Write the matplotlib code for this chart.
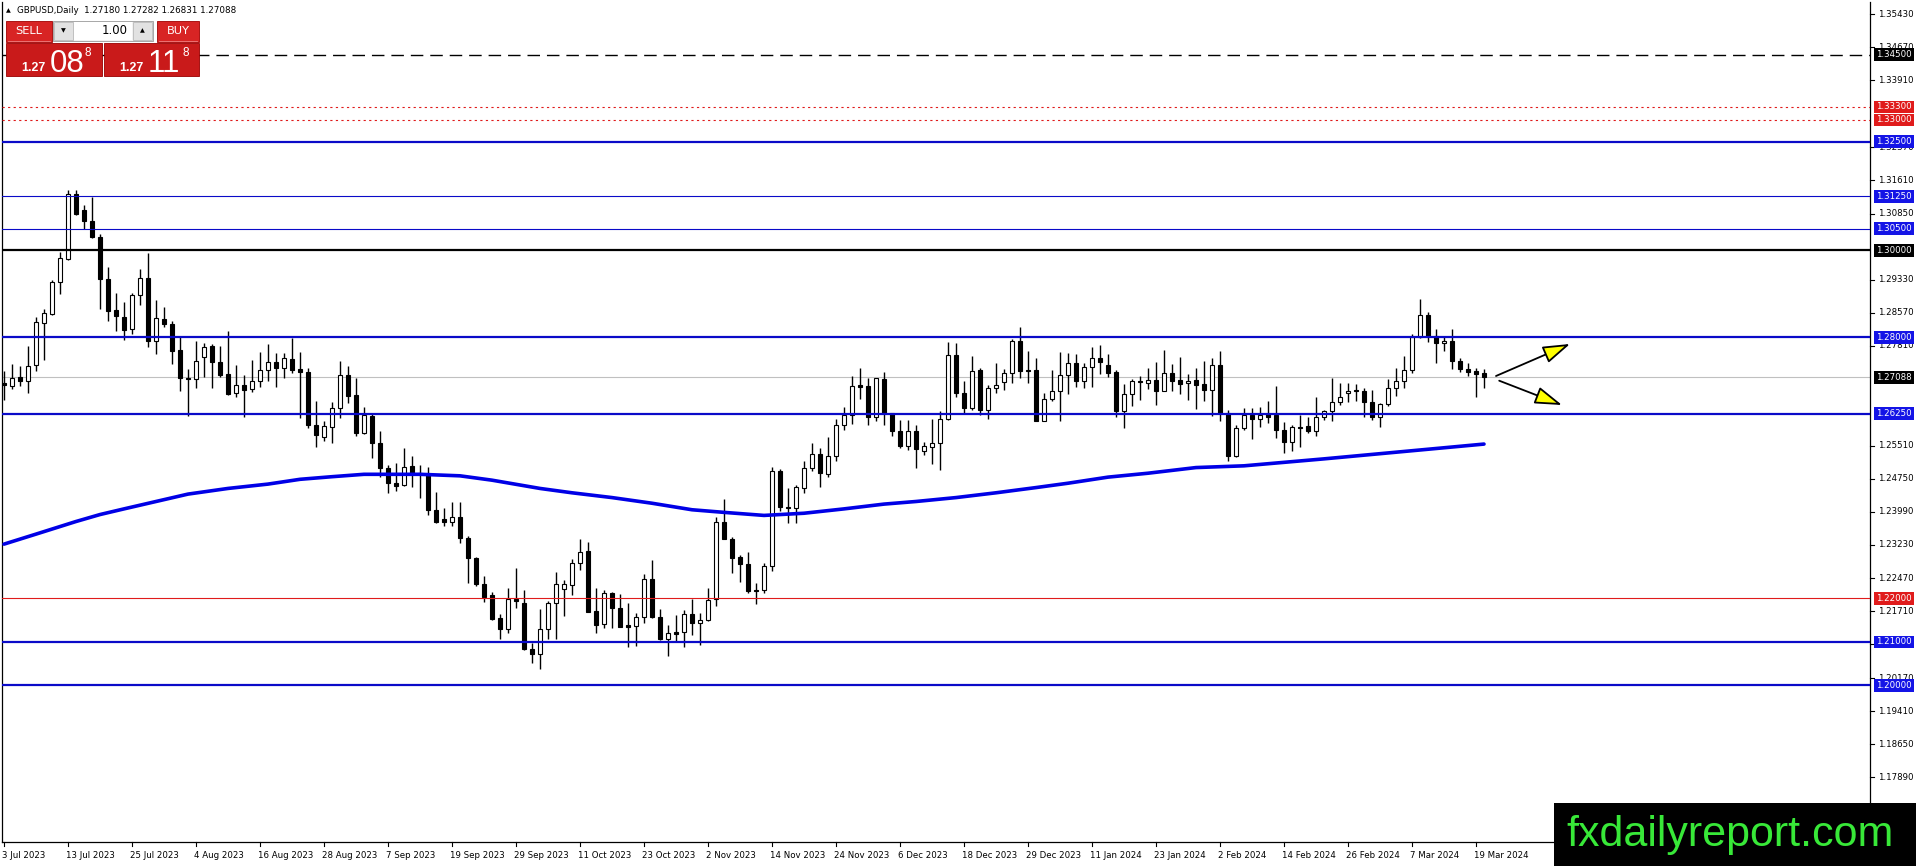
import numpy as np
import matplotlib
matplotlib.use("Agg")
import matplotlib.pyplot as plt
from matplotlib.patches import Rectangle
from matplotlib.transforms import blended_transform_factory

# GBPUSD daily candles, bar 0 = 3 Jul 2023, last bar = 20 Mar 2024
opens = [1.2695, 1.2688, 1.2709, 1.2700, 1.2736, 1.2833, 1.2855, 1.2927, 1.2981, 1.3130,
         1.3093, 1.3068, 1.3030, 1.2935, 1.2863, 1.2847, 1.2820, 1.2897, 1.2937, 1.2792,
         1.2843, 1.2831, 1.2772, 1.2707, 1.2705, 1.2755, 1.2780, 1.2743, 1.2716, 1.2672,
         1.2690, 1.2681, 1.2700, 1.2726, 1.2743, 1.2730, 1.2751, 1.2728, 1.2720, 1.2598,
         1.2572, 1.2595, 1.2637, 1.2714, 1.2668, 1.2581, 1.2620, 1.2558, 1.2501, 1.2466,
         1.2462, 1.2505, 1.2489, 1.2487, 1.2403, 1.2382, 1.2377, 1.2388, 1.2338, 1.2294,
         1.2233, 1.2207, 1.2155, 1.2131, 1.2199, 1.2190, 1.2083, 1.2072, 1.2131, 1.2189,
         1.2221, 1.2232, 1.2281, 1.2309, 1.2171, 1.2141, 1.2212, 1.2179, 1.2139, 1.2137,
         1.2158, 1.2244, 1.2157, 1.2106, 1.2123, 1.2122, 1.2164, 1.2144, 1.2151, 1.2198,
         1.2375, 1.2337, 1.2296, 1.2280, 1.2220, 1.2220, 1.2275, 1.2493, 1.2411, 1.2409,
         1.2453, 1.2499, 1.2532, 1.2487, 1.2527, 1.2598, 1.2622, 1.2690, 1.2688, 1.2617,
         1.2704, 1.2626, 1.2586, 1.2551, 1.2586, 1.2539, 1.2549, 1.2557, 1.2612, 1.2760,
         1.2672, 1.2639, 1.2725, 1.2633, 1.2683, 1.2697, 1.2718, 1.2792, 1.2726, 1.2725,
         1.2609, 1.2658, 1.2677, 1.2713, 1.2741, 1.2701, 1.2733, 1.2752, 1.2737, 1.2721,
         1.2630, 1.2669, 1.2700, 1.2695, 1.2702, 1.2678, 1.2718, 1.2702, 1.2695, 1.2702,
         1.2693, 1.2680, 1.2737, 1.2626, 1.2528, 1.2591, 1.2622, 1.2612, 1.2625, 1.2622,
         1.2587, 1.2560, 1.2595, 1.2597, 1.2586, 1.2617, 1.2630, 1.2652, 1.2672, 1.2679,
         1.2678, 1.2652, 1.2617, 1.2646, 1.2685, 1.2700, 1.2725, 1.2800, 1.2852, 1.2804,
         1.2787, 1.2792, 1.2747, 1.2727, 1.2722, 1.27180]
highs = [1.2722, 1.2739, 1.2734, 1.2780, 1.2848, 1.2866, 1.2933, 1.2996, 1.3138, 1.3140,
         1.3105, 1.3123, 1.3038, 1.2962, 1.2903, 1.2881, 1.2903, 1.2958, 1.2995, 1.2887,
         1.2870, 1.2839, 1.2803, 1.2728, 1.2792, 1.2788, 1.2785, 1.2780, 1.2815, 1.2737,
         1.2714, 1.2749, 1.2766, 1.2785, 1.2765, 1.2765, 1.2798, 1.2766, 1.2729, 1.2655,
         1.2607, 1.2651, 1.2745, 1.2735, 1.2708, 1.2640, 1.2627, 1.2585, 1.2507, 1.2511,
         1.2545, 1.2528, 1.2507, 1.2503, 1.2444, 1.2409, 1.2422, 1.2421, 1.2344, 1.2295,
         1.2252, 1.2216, 1.2164, 1.2223, 1.2269, 1.2220, 1.2098, 1.2176, 1.2195, 1.2261,
         1.2243, 1.2290, 1.2336, 1.2329, 1.2223, 1.2220, 1.2216, 1.2210, 1.2189, 1.2167,
         1.2256, 1.2288, 1.2175, 1.2139, 1.2162, 1.2174, 1.2199, 1.2166, 1.2223, 1.2388,
         1.2428, 1.2342, 1.2300, 1.2306, 1.2235, 1.2281, 1.2503, 1.2497, 1.2453, 1.2461,
         1.2516, 1.2558, 1.2545, 1.2572, 1.2613, 1.2640, 1.2712, 1.2729, 1.2706, 1.2708,
         1.2721, 1.2627, 1.2610, 1.2610, 1.2599, 1.2560, 1.2613, 1.2632, 1.2789, 1.2787,
         1.2700, 1.2758, 1.2729, 1.2691, 1.2742, 1.2727, 1.2796, 1.2825, 1.2770, 1.2754,
         1.2672, 1.2725, 1.2767, 1.2765, 1.2762, 1.2742, 1.2779, 1.2783, 1.2762, 1.2725,
         1.2693, 1.2704, 1.2712, 1.2729, 1.2744, 1.2771, 1.2739, 1.2756, 1.2716, 1.2729,
         1.2746, 1.2752, 1.2769, 1.2633, 1.2599, 1.2637, 1.2637, 1.2641, 1.2653, 1.2689,
         1.2606, 1.2599, 1.2622, 1.2618, 1.2664, 1.2634, 1.2706, 1.2696, 1.2695, 1.2692,
         1.2683, 1.2679, 1.2649, 1.2704, 1.2731, 1.2757, 1.2807, 1.2888, 1.2858, 1.2819,
         1.2802, 1.2819, 1.2754, 1.2742, 1.2729, 1.27282]
lows = [1.2657, 1.2682, 1.2688, 1.2672, 1.2724, 1.2749, 1.2852, 1.2900, 1.2979, 1.3082,
        1.3050, 1.3028, 1.2866, 1.2837, 1.2814, 1.2795, 1.2807, 1.2874, 1.2779, 1.2761,
        1.2825, 1.2739, 1.2678, 1.2619, 1.2684, 1.2710, 1.2684, 1.2710, 1.2668, 1.2664,
        1.2617, 1.2674, 1.2686, 1.2701, 1.2687, 1.2707, 1.2718, 1.2615, 1.2592, 1.2548,
        1.2561, 1.2558, 1.2616, 1.2649, 1.2574, 1.2579, 1.2522, 1.2480, 1.2443, 1.2448,
        1.2458, 1.2457, 1.2432, 1.2392, 1.2374, 1.2367, 1.2367, 1.2328, 1.2235, 1.2229,
        1.2193, 1.2151, 1.2108, 1.2120, 1.2179, 1.2082, 1.2051, 1.2037, 1.2106, 1.2106,
        1.2160, 1.2208, 1.2266, 1.2170, 1.2121, 1.2133, 1.2132, 1.2135, 1.2089, 1.2091,
        1.2143, 1.2156, 1.2105, 1.2068, 1.2103, 1.2089, 1.2116, 1.2093, 1.2149, 1.2183,
        1.2336, 1.2258, 1.2239, 1.2212, 1.2187, 1.2212, 1.2264, 1.2400, 1.2374, 1.2373,
        1.2443, 1.2494, 1.2456, 1.2480, 1.2516, 1.2587, 1.2601, 1.2659, 1.2599, 1.2609,
        1.2599, 1.2574, 1.2547, 1.2541, 1.2499, 1.2531, 1.2509, 1.2495, 1.2610, 1.2664,
        1.2627, 1.2633, 1.2622, 1.2613, 1.2673, 1.2679, 1.2695, 1.2708, 1.2696, 1.2607,
        1.2607, 1.2653, 1.2607, 1.2669, 1.2686, 1.2683, 1.2686, 1.2716, 1.2709, 1.2617,
        1.2593, 1.2643, 1.2656, 1.2681, 1.2645, 1.2676, 1.2678, 1.2670, 1.2656, 1.2636,
        1.2653, 1.2620, 1.2609, 1.2515, 1.2526, 1.2587, 1.2567, 1.2595, 1.2604, 1.2570,
        1.2534, 1.2538, 1.2548, 1.2580, 1.2574, 1.2610, 1.2607, 1.2645, 1.2652, 1.2655,
        1.2618, 1.2610, 1.2595, 1.2643, 1.2666, 1.2685, 1.2719, 1.2798, 1.2790, 1.2742,
        1.2770, 1.2727, 1.2721, 1.2712, 1.2664, 1.26831]
closes = [1.2690, 1.2707, 1.2700, 1.2734, 1.2835, 1.2856, 1.2927, 1.2982, 1.3130, 1.3084,
          1.3067, 1.3031, 1.2935, 1.2862, 1.2849, 1.2818, 1.2898, 1.2937, 1.2792, 1.2844,
          1.2830, 1.2770, 1.2707, 1.2704, 1.2746, 1.2779, 1.2743, 1.2713, 1.2669, 1.2690,
          1.2680, 1.2700, 1.2726, 1.2743, 1.2730, 1.2752, 1.2726, 1.2720, 1.2598, 1.2575,
          1.2597, 1.2637, 1.2714, 1.2666, 1.2581, 1.2622, 1.2558, 1.2501, 1.2466, 1.2459,
          1.2503, 1.2489, 1.2486, 1.2403, 1.2377, 1.2377, 1.2388, 1.2338, 1.2294, 1.2233,
          1.2204, 1.2154, 1.2131, 1.2198, 1.2195, 1.2083, 1.2072, 1.2131, 1.2189, 1.2233,
          1.2233, 1.2281, 1.2308, 1.2170, 1.2138, 1.2212, 1.2179, 1.2135, 1.2135, 1.2158,
          1.2244, 1.2157, 1.2106, 1.2121, 1.2118, 1.2164, 1.2144, 1.2151, 1.2197, 1.2377,
          1.2337, 1.2294, 1.2279, 1.2217, 1.2218, 1.2275, 1.2493, 1.2410, 1.2408, 1.2457,
          1.2499, 1.2532, 1.2488, 1.2528, 1.2599, 1.2622, 1.2689, 1.2687, 1.2617, 1.2706,
          1.2626, 1.2586, 1.2551, 1.2586, 1.2543, 1.2551, 1.2557, 1.2612, 1.2760, 1.2672,
          1.2639, 1.2724, 1.2633, 1.2683, 1.2691, 1.2718, 1.2792, 1.2724, 1.2723, 1.2609,
          1.2658, 1.2677, 1.2713, 1.2741, 1.2701, 1.2733, 1.2752, 1.2744, 1.2719, 1.2630,
          1.2669, 1.2700, 1.2697, 1.2702, 1.2678, 1.2718, 1.2701, 1.2693, 1.2701, 1.2691,
          1.2679, 1.2737, 1.2626, 1.2528, 1.2591, 1.2622, 1.2612, 1.2622, 1.2618, 1.2587,
          1.2560, 1.2594, 1.2593, 1.2586, 1.2617, 1.2630, 1.2652, 1.2664, 1.2678, 1.2677,
          1.2652, 1.2617, 1.2646, 1.2685, 1.2700, 1.2725, 1.2800, 1.2852, 1.2803, 1.2787,
          1.2792, 1.2747, 1.2727, 1.2721, 1.2715, 1.27088]

# 200-day moving average (bar index, value)
ma_bars = [0, 4, 9, 12, 15, 19, 23, 28, 33, 37, 41, 45, 52, 57, 61, 67, 71, 76, 81,
           86, 90, 95, 100, 105, 110, 114, 119, 124, 129, 133, 138, 143, 149, 155,
           165, 175, 185]
ma_vals = [1.2325, 1.2348, 1.2377, 1.2393, 1.2406, 1.2423, 1.2440, 1.2453, 1.2463,
           1.2474, 1.2480, 1.24855, 1.24855, 1.2482, 1.2472, 1.2453, 1.2443, 1.2432,
           1.2419, 1.2404, 1.2398, 1.2391, 1.2396, 1.2406, 1.2417, 1.2423, 1.2432,
           1.2443, 1.2455, 1.2465, 1.2479, 1.2488, 1.2501, 1.2505, 1.2521, 1.2538,
           1.2555]

date_labels = ['3 Jul 2023', '13 Jul 2023', '25 Jul 2023', '4 Aug 2023', '16 Aug 2023',
               '28 Aug 2023', '7 Sep 2023', '19 Sep 2023', '29 Sep 2023', '11 Oct 2023',
               '23 Oct 2023', '2 Nov 2023', '14 Nov 2023', '24 Nov 2023', '6 Dec 2023',
               '18 Dec 2023', '29 Dec 2023', '11 Jan 2024', '23 Jan 2024', '2 Feb 2024',
               '14 Feb 2024', '26 Feb 2024', '7 Mar 2024', '19 Mar 2024']
date_step = 8

# visible right-scale ticks (the ones hidden under level boxes are left out)
price_ticks = [1.35430, 1.34670, 1.33910, 1.32370, 1.31610, 1.30850,
               1.29330, 1.28570, 1.27810, 1.25510, 1.24750, 1.23990,
               1.23230, 1.22470, 1.21710, 1.20950, 1.20170, 1.19410, 1.18650, 1.17890]

levels = [1.3450, 1.3330, 1.3300, 1.3250, 1.3125, 1.3050, 1.3000, 1.2800, 1.2625,
          1.2200, 1.2100, 1.2000]
level_kind = ['dash', 'dot', 'dot', 'blue2', 'blue1', 'blue1', 'black2', 'blue2', 'blue2',
              'red1', 'blue2', 'blue2']
last_price = 1.27088

# projection arrows: (bar_from, price_from, bar_to, price_to)
arrows = [(186.5, 1.27115, 195.75, 1.27851),
          (186.9, 1.27007, 194.75, 1.26448)]

BLUE = '#0a0ac8'
BOXBLUE = '#1414e6'
RED = '#e01b1b'
styles = {
    'dash':   dict(color='black', lw=1.0, ls=(0, (9, 5)), box='black'),
    'dot':    dict(color=RED, lw=0.8, ls=(0, (2, 3)), box=RED),
    'blue2':  dict(color=BLUE, lw=1.6, ls='-', box=BOXBLUE),
    'blue1':  dict(color=BLUE, lw=0.8, ls='-', box=BOXBLUE),
    'black2': dict(color='black', lw=1.6, ls='-', box='black'),
    'red1':   dict(color=RED, lw=0.8, ls='-', box=RED),
}

W, H = 1916, 866
fig = plt.figure(figsize=(W / 100, H / 100), dpi=100)
fig.patch.set_facecolor('white')
ax = fig.add_axes([2 / W, (H - 842) / H, (1870 - 2) / W, (842 - 2) / H])
ax.set_xlim(-0.25, 233.25)
ax.set_ylim(1.164023, 1.357126)
ax.set_xticks([])
ax.set_yticks([])
for side in ['left', 'bottom', 'right']:
    ax.spines[side].set_color('black')
    ax.spines[side].set_linewidth(0.9)
ax.spines['top'].set_visible(False)

o = np.array(opens)
h = np.array(highs)
l = np.array(lows)
c = np.array(closes)
x = np.arange(len(o))

# current price line behind everything
ax.axhline(last_price, color='#c0c0c0', lw=0.8, zorder=1)

ax.vlines(x, l, h, color='black', lw=1.0, zorder=2)
up = c >= o
body_bottom = np.minimum(o, c)
body_h = np.maximum(np.abs(c - o), 0.00008)
ax.bar(x[up], body_h[up], bottom=body_bottom[up], width=0.6, color='white',
       edgecolor='black', linewidth=0.8, zorder=3)
ax.bar(x[~up], body_h[~up], bottom=body_bottom[~up], width=0.6, color='black',
       edgecolor='black', linewidth=0.8, zorder=3)

for lev, kind in zip(levels, level_kind):
    st = styles[kind]
    ax.axhline(lev, color=st['color'], lw=st['lw'], ls=st['ls'], zorder=4)

ax.plot(ma_bars, ma_vals, color='#0000e6', lw=2.6, zorder=5, solid_capstyle='round',
        solid_joinstyle='round')

for x0, y0, x1, y1 in arrows:
    ax.annotate('', xy=(x1, y1), xytext=(x0, y0),
                arrowprops=dict(arrowstyle='-|>,head_length=1.4,head_width=0.45',
                                fc='#ffff00', ec='black', lw=1.3,
                                shrinkA=0, shrinkB=0, mutation_scale=12),
                zorder=6)

# right price scale
ytr = blended_transform_factory(ax.transAxes, ax.transData)
px = 1.0 / (1870 - 2)
for t in price_ticks:
    ax.plot([1.0, 1.0 + 4 * px], [t, t], color='black', lw=0.8,
            transform=ytr, clip_on=False)
    ax.text(1.0 + 8 * px, t, f'{t:.5f}', transform=ytr, fontsize=6.2,
            ha='left', va='center', clip_on=False, zorder=7)

box_items = [(lev, styles[k]['box']) for lev, k in zip(levels, level_kind)]
box_items.append((last_price, 'black'))
for lev, col in box_items:
    ax.text(1.0 + 6 * px, lev, f'{lev:.5f}', transform=ytr, fontsize=6.2,
            color='white', ha='left', va='center', clip_on=False, zorder=8,
            bbox=dict(boxstyle='square,pad=0.22', fc=col, ec='none'))

# time scale
xtr = blended_transform_factory(ax.transData, ax.transAxes)
py = 1.0 / (842 - 2)
for k, lab in enumerate(date_labels):
    xi = k * date_step
    ax.plot([xi, xi], [0, -4 * py], color='black', lw=0.8, transform=xtr, clip_on=False)
    ax.text(xi - 0.2, -13 * py, lab, transform=xtr, fontsize=6.2, ha='left',
            va='center', clip_on=False)

# overlay: header, trade panel, watermark (pixel coordinates)
ui = fig.add_axes([0, 0, 1, 1], zorder=10)
ui.set_xlim(0, W)
ui.set_ylim(H, 0)
ui.axis('off')

ui.text(6, 10.5, '\u25b2', fontsize=4.5, ha='left', va='center')
ui.text(17, 10.5, 'GBPUSD,Daily  1.27180 1.27282 1.26831 1.27088', fontsize=6.3,
        ha='left', va='center')

PANEL_RED = '#c91a1a'
for bx, bw, lab in [(6, 46, 'SELL'), (157, 42, 'BUY')]:
    ui.add_patch(Rectangle((bx, 21), bw, 21, fc='#d82424', ec='#a00000', lw=0.6))
    ui.plot([bx + 2, bx + bw - 2], [40.5, 40.5], color='#f08080', lw=0.6)
    ui.text(bx + bw / 2, 31, lab, color='white', fontsize=8.2, ha='center', va='center')
ui.add_patch(Rectangle((53, 21), 100, 20, fc='#f2f2f2', ec='#9a9a9a', lw=0.6))
ui.add_patch(Rectangle((54, 22), 19, 18, fc='#e2e2e2', ec='#b0b0b0', lw=0.5))
ui.add_patch(Rectangle((133, 22), 19, 18, fc='#e2e2e2', ec='#b0b0b0', lw=0.5))
ui.add_patch(Rectangle((74, 22), 58, 18, fc='white', ec='none'))
ui.text(63.5, 31, '\u25bc', fontsize=4.5, ha='center', va='center')
ui.text(142.5, 31, '\u25b2', fontsize=4.5, ha='center', va='center')
ui.text(128, 31, '1.00', fontsize=8.4, ha='right', va='center')

for bx, bw, small, big, sup in [(6, 96, '1.27', '08', '8'), (104, 95, '1.27', '11', '8')]:
    ui.add_patch(Rectangle((bx, 43), bw, 33, fc=PANEL_RED, ec='#9a0000', lw=0.6))
    ui.text(bx + 15, 71, small, color='white', fontsize=9, fontweight='bold',
            family='Liberation Sans', ha='left', va='baseline')
    ui.text(bx + 44, 71.5, big, color='white', fontsize=22.5,
            family='Liberation Sans', ha='left', va='baseline')
    ui.text(bx + 79, 56, sup, color='white', fontsize=8.5,
            family='Liberation Sans', ha='left', va='baseline')

ui.add_patch(Rectangle((1554, 803), W - 1554, H - 803, fc='black', ec='none'))
ui.text(1566, 835, 'fxdailyreport.com', color='#38e838', fontsize=31,
        family='Liberation Sans', ha='left', va='center')

fig.savefig('out.png', dpi=100, facecolor='white')
